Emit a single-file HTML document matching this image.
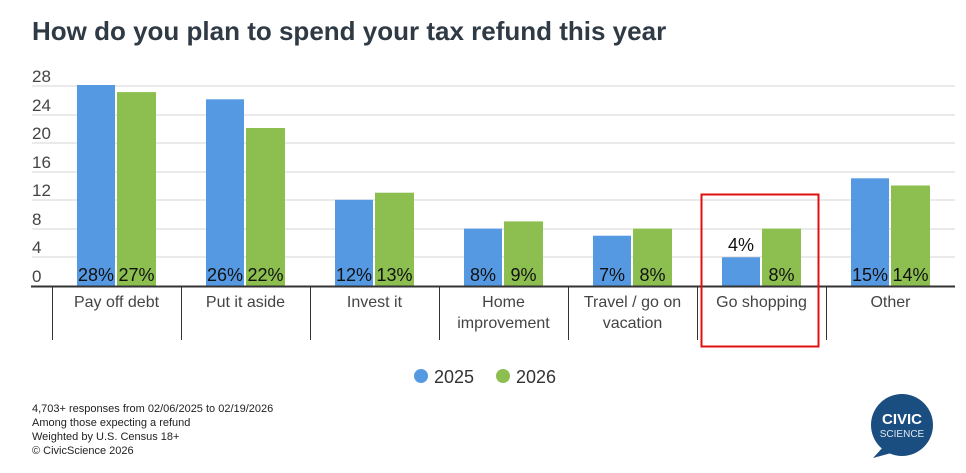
<!DOCTYPE html>
<html><head><meta charset="utf-8"><style>
body{margin:0;background:#fff;font-family:"Liberation Sans",sans-serif}
</style></head><body>
<svg width="966" height="468" xmlns="http://www.w3.org/2000/svg" font-family="Liberation Sans, sans-serif">
<text x="32" y="40" font-size="26" font-weight="bold" fill="#2f3a45">How do you plan to spend your tax refund this year</text>
<g stroke="#d6d6d6" stroke-width="1">
<line x1="32" x2="955" y1="86" y2="86"/><line x1="32" x2="955" y1="115" y2="115"/>
<line x1="32" x2="955" y1="143" y2="143"/><line x1="32" x2="955" y1="172" y2="172"/>
<line x1="32" x2="955" y1="200" y2="200"/><line x1="32" x2="955" y1="229" y2="229"/>
<line x1="32" x2="955" y1="257" y2="257"/>
</g>
<g font-size="17" fill="#444">
<text x="32" y="82">28</text><text x="32" y="111">24</text><text x="32" y="139">20</text>
<text x="32" y="168">16</text><text x="32" y="196">12</text><text x="32" y="225">8</text>
<text x="32" y="253">4</text><text x="32" y="282">0</text>
</g>
<g fill="#5599e3">
<rect x="77" y="85" width="38" height="201"/>
<rect x="206" y="99.3" width="38" height="186.7"/>
<rect x="335" y="199.8" width="38" height="86.2"/>
<rect x="464" y="228.6" width="38" height="57.4"/>
<rect x="593" y="235.7" width="38" height="50.3"/>
<rect x="722" y="257.3" width="38" height="28.7"/>
<rect x="851" y="178.3" width="38" height="107.7"/>
</g>
<g fill="#8cbf50">
<rect x="117" y="92.1" width="39" height="193.9"/>
<rect x="246" y="128" width="39" height="158"/>
<rect x="375" y="192.7" width="39" height="93.3"/>
<rect x="504" y="221.4" width="39" height="64.6"/>
<rect x="633" y="228.6" width="39" height="57.4"/>
<rect x="762" y="228.6" width="39" height="57.4"/>
<rect x="891" y="185.5" width="39" height="100.5"/>
</g>
<g font-size="18" fill="#111" text-anchor="middle">
<text x="96" y="281">28%</text><text x="136.5" y="281">27%</text>
<text x="225" y="281">26%</text><text x="265.5" y="281">22%</text>
<text x="354" y="281">12%</text><text x="394.5" y="281">13%</text>
<text x="483" y="281">8%</text><text x="523.5" y="281">9%</text>
<text x="612" y="281">7%</text><text x="652.5" y="281">8%</text>
<text x="741" y="251">4%</text><text x="781.5" y="281">8%</text>
<text x="870" y="281">15%</text><text x="910.5" y="281">14%</text>
</g>
<g font-size="16" fill="#444" text-anchor="middle">
<text x="116.5" y="307">Pay off debt</text>
<text x="245.5" y="307">Put it aside</text>
<text x="374.5" y="307">Invest it</text>
<text x="503.5" y="307">Home</text><text x="503.5" y="328">improvement</text>
<text x="632.5" y="307">Travel / go on</text><text x="632.5" y="328">vacation</text>
<text x="761.5" y="307">Go shopping</text>
<text x="890.5" y="307">Other</text>
</g>
<g stroke="#333" stroke-width="1">
<line x1="52.5" x2="52.5" y1="286" y2="340"/><line x1="181.5" x2="181.5" y1="286" y2="340"/>
<line x1="310.5" x2="310.5" y1="286" y2="340"/><line x1="439.5" x2="439.5" y1="286" y2="340"/>
<line x1="568.5" x2="568.5" y1="286" y2="340"/><line x1="697.5" x2="697.5" y1="286" y2="340"/>
<line x1="826.5" x2="826.5" y1="286" y2="340"/>
</g>
<line x1="31" x2="955" y1="286.5" y2="286.5" stroke="#333" stroke-width="2"/>
<rect x="701.5" y="194.5" width="117" height="152" fill="none" stroke="#e01010" stroke-width="2"/>
<circle cx="421" cy="376" r="7" fill="#5599e3"/><text x="434" y="383" font-size="18" fill="#333">2025</text>
<circle cx="503" cy="376" r="7" fill="#8cbf50"/><text x="516" y="383" font-size="18" fill="#333">2026</text>
<g font-size="11" fill="#222">
<text x="32" y="412">4,703+ responses from 02/06/2025 to 02/19/2026</text>
<text x="32" y="426">Among those expecting a refund</text>
<text x="32" y="440">Weighted by U.S. Census 18+</text>
<text x="32" y="454">© CivicScience 2026</text>
</g>
<circle cx="902" cy="425" r="31" fill="#1a4e80"/>
<polygon points="873,458 885,445 895,452" fill="#1a4e80"/>
<text x="902" y="424" font-size="15" font-weight="bold" fill="#fff" text-anchor="middle">CIVIC</text>
<text x="902" y="437" font-size="10" fill="#dfe8f2" text-anchor="middle">SCIENCE</text>
</svg>
</body></html>
